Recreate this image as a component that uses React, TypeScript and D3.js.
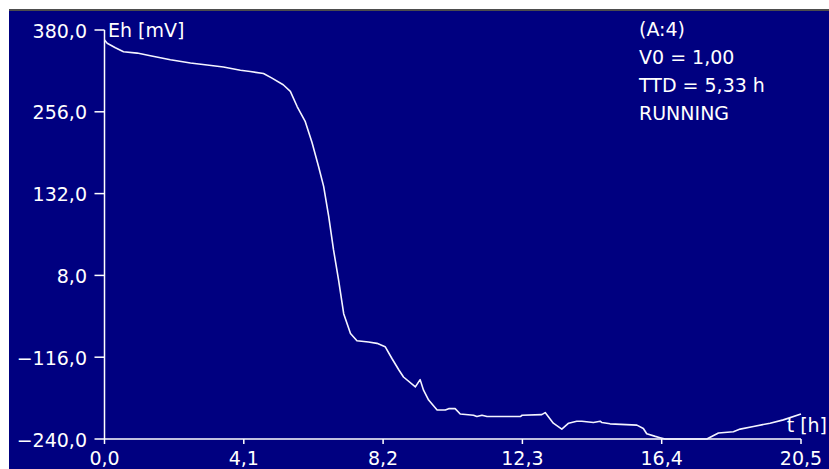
import React from "react";
import * as d3 from "d3";

// time [h] and Eh [mV]
const timeH = [
  0, 0.08, 0.32, 0.56, 0.96, 1.35, 1.94, 2.53, 3.02, 3.5, 4.0, 4.29, 4.68, 4.93,
  5.26, 5.47, 5.67, 5.91, 6.11, 6.3, 6.45, 6.6, 6.74, 6.89, 7.04, 7.24, 7.43,
  7.77, 8.02, 8.26, 8.46, 8.66, 8.8, 9.15, 9.29, 9.39, 9.54, 9.79, 10.03, 10.13,
  10.32, 10.47, 10.86, 10.96, 11.11, 11.26, 12.24, 12.29, 12.87, 12.97, 13.21,
  13.46, 13.66, 13.9, 14.05, 14.39, 14.59, 14.64, 14.88, 15.67, 15.86, 15.96,
  16.21, 16.35, 16.5, 17.73, 18.07, 18.51, 18.71, 19.1, 19.59, 19.98, 20.5,
];
const ehMv = [
  365, 360, 353, 347, 345, 341, 335, 330, 327, 324, 319, 317, 314, 307, 297,
  287, 264, 241, 209, 173, 143, 97, 47, 1, -50, -80, -91, -93, -95, -100, -118,
  -135, -146, -161, -150, -166, -181, -196, -196, -194, -194, -202, -204, -206,
  -204, -206, -206, -204, -203, -200, -216, -225, -216, -213, -213, -215, -213,
  -215, -217, -219, -224, -232, -236, -238, -240, -240, -231, -229, -225, -221,
  -216, -211, -202,
];

const yTicks = [380, 256, 132, 8, -116, -240];
const xTicks = [0, 4.1, 8.2, 12.3, 16.4, 20.5];
const infoLines = ["(A:4)", "V0 = 1,00", "TTD = 5,33 h", "RUNNING"];

const W = 829;
const H = 469;
const BG = "#000080";
const FG = "#ffffff";
const FONT = "'DejaVu Sans', Verdana, sans-serif";

const locale = d3.formatLocale({
  decimal: ",",
  thousands: ".",
  grouping: [3],
  currency: ["", ""],
});
const fmt = locale.format(".1f");

export default function App() {
  const x = d3.scaleLinear().domain([0, 20.5]).range([104.5, 801]);
  const y = d3.scaleLinear().domain([-240, 380]).range([439, 30]);

  const points = timeH.map((t, i) => [t, ehMv[i]] as [number, number]);
  const line = d3
    .line<[number, number]>()
    .x((d) => x(d[0]))
    .y((d) => y(d[1]))
    .curve(d3.curveLinear);

  return (
    <svg
      width={W}
      height={H}
      style={{ position: "absolute", left: 0, top: 0, display: "block" }}
    >
      <rect x={0} y={0} width={W} height={H} fill="#ffffff" />
      <rect x={9} y={9} width={W - 9} height={H - 9} fill={BG} />
      <line x1={9} x2={W} y1={10} y2={10} stroke="#4d4d4d" strokeWidth={2} />

      <g fontFamily={FONT} fontSize={19} fill={FG}>
        {/* y axis */}
        <line x1={x(0)} x2={x(0)} y1={y(380)} y2={y(-240)} stroke={FG} strokeWidth={1.5} />
        {yTicks.map((v) => (
          <g key={"y" + v}>
            <line x1={x(0) - 10} x2={x(0)} y1={y(v)} y2={y(v)} stroke={FG} strokeWidth={1.5} />
            <text x={87} y={y(v) + 7.5} textAnchor="end">
              {fmt(v)}
            </text>
          </g>
        ))}

        {/* x axis */}
        <line x1={x(0)} x2={x(20.5)} y1={y(-240)} y2={y(-240)} stroke={FG} strokeWidth={1.5} />
        {xTicks.map((t) => (
          <g key={"x" + t}>
            <line x1={x(t)} x2={x(t)} y1={y(-240)} y2={y(-240) + 5} stroke={FG} strokeWidth={1.5} />
            <text x={x(t)} y={465} textAnchor="middle">
              {fmt(t)}
            </text>
          </g>
        ))}

        <text x={108} y={37}>Eh [mV]</text>
        <text x={827} y={432} textAnchor="end">t [h]</text>

        {infoLines.map((s, i) => (
          <text key={s} x={639} y={35.5 + i * 28}>
            {s}
          </text>
        ))}
      </g>

      <path
        d={line(points) || ""}
        fill="none"
        stroke="#f4f4ff"
        strokeWidth={1.6}
        strokeLinejoin="round"
      />
    </svg>
  );
}
